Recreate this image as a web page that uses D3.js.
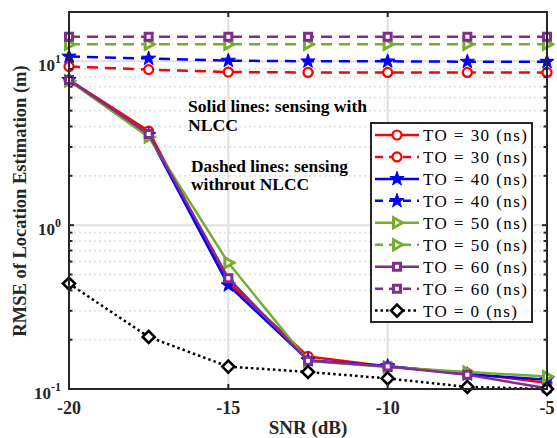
<!DOCTYPE html>
<html><head><meta charset="utf-8">
<script src="https://cdn.jsdelivr.net/npm/d3@7"></script>
<style>body{margin:0;background:#fff}svg{display:block}</style>
</head><body>
<svg id="c" width="557" height="438"></svg>
<script>
const snr = [-20, -17.5, -15, -12.5, -10, -7.5, -5];
const solid30 = [7.7, 3.75, 0.45, 0.158, 0.137, 0.125, 0.109];
const dashed30 = [9.3, 8.9, 8.6, 8.55, 8.55, 8.55, 8.55];
const solid40 = [7.7, 3.55, 0.43, 0.150, 0.138, 0.123, 0.114];
const dashed40 = [10.7, 10.4, 10.1, 10.0, 10.0, 9.95, 9.95];
const solid50 = [7.6, 3.45, 0.59, 0.148, 0.136, 0.127, 0.119];
const dashed50 = [12.7, 12.7, 12.7, 12.7, 12.7, 12.7, 12.7];
const solid60 = [7.7, 3.6, 0.475, 0.149, 0.137, 0.122, 0.101];
const dashed60 = [14.1, 14.1, 14.1, 14.1, 14.1, 14.1, 14.1];
const to0 = [0.44, 0.208, 0.137, 0.127, 0.116, 0.103, 0.100];
const legendLabels = ["TO = 30 (ns)","TO = 30 (ns)","TO = 40 (ns)","TO = 40 (ns)","TO = 50 (ns)","TO = 50 (ns)","TO = 60 (ns)","TO = 60 (ns)","TO = 0 (ns)"];
const xTicks = [-20, -15, -10, -5];
const yMajor = [0.1, 1, 10];
const yMajorExp = ["-1", "0", "1"];
const yMinor = [0.2,0.3,0.4,0.5,0.6,0.7,0.8,0.9,2,3,4,5,6,7,8,9];

const series = [
  {v: solid30, c: "#ff0000", dash: null, m: "circle"},
  {v: dashed30, c: "#ff0000", dash: "11,7", m: "circle"},
  {v: solid40, c: "#0000ff", dash: null, m: "star"},
  {v: dashed40, c: "#0000ff", dash: "11,7", m: "star"},
  {v: solid50, c: "#77ac30", dash: null, m: "tri"},
  {v: dashed50, c: "#77ac30", dash: "11,7", m: "tri"},
  {v: solid60, c: "#7e2f8e", dash: null, m: "square"},
  {v: dashed60, c: "#7e2f8e", dash: "11,7", m: "square"},
  {v: to0, c: "#000000", dash: "2.5,3", m: "diamond"}
];

const L = 69, R = 547, T = 12, B = 389;
const x = d3.scaleLinear().domain([-20, -5]).range([L, R]);
const y = d3.scaleLog().domain([0.1, 20]).range([B, T]);
const svg = d3.select("#c");
const axisCol = "#262626";
const serif = "'Liberation Serif','Times New Roman',serif";

// grid
const g = svg.append("g");
g.selectAll(".ymin").data(yMinor).join("line")
  .attr("x1", L).attr("x2", R).attr("y1", d => y(d)).attr("y2", d => y(d))
  .attr("stroke", "#e3e3e3").attr("stroke-width", 1.8).attr("stroke-dasharray", "2,3");
g.selectAll(".ymaj").data([1, 10]).join("line")
  .attr("x1", L).attr("x2", R).attr("y1", d => y(d)).attr("y2", d => y(d))
  .attr("stroke", "#e0e0e0").attr("stroke-width", 2);
g.selectAll(".xg").data([-15, -10]).join("line")
  .attr("y1", T).attr("y2", B).attr("x1", d => x(d)).attr("x2", d => x(d))
  .attr("stroke", "#e0e0e0").attr("stroke-width", 2);

// markers
function markerPath(type) {
  if (type === "star") {
    const pts = [];
    for (let i = 0; i < 10; i++) {
      const r = i % 2 === 0 ? 7.5 : 3.0;
      const a = -Math.PI / 2 + i * Math.PI / 5;
      pts.push([r * Math.cos(a), r * Math.sin(a)]);
    }
    return "M" + pts.map(p => p.join(",")).join("L") + "Z";
  }
  if (type === "tri") return "M-3.5,-5L5.5,0L-3.5,5Z";
  if (type === "square") return "M-3.5,-3.5L3.5,-3.5L3.5,3.5L-3.5,3.5Z";
  if (type === "diamond") return "M0,-6L6,0L0,6L-6,0Z";
  return null;
}
function drawMarker(sel, type, c) {
  if (type === "circle") {
    sel.append("circle").attr("r", 4.5).attr("fill", "#fff").attr("stroke", c).attr("stroke-width", 2.2);
  } else if (type === "star") {
    sel.append("path").attr("d", markerPath(type)).attr("fill", c).attr("stroke", c).attr("stroke-width", 1);
  } else if (type === "diamond") {
    sel.append("path").attr("d", markerPath(type)).attr("fill", "#fff").attr("stroke", c).attr("stroke-width", 2.6);
  } else {
    sel.append("path").attr("d", markerPath(type)).attr("fill", "#fff").attr("stroke", c).attr("stroke-width", 3);
  }
}

const line = d3.line().x(d => x(d[0])).y(d => y(d[1]));
const drawOrder = [1, 3, 5, 7, 0, 2, 4, 6, 8];
drawOrder.forEach(i => {
  const s = series[i];
  const pts = snr.map((d, k) => [d, s.v[k]]);
  svg.append("path").attr("d", line(pts)).attr("fill", "none")
    .attr("stroke", s.c).attr("stroke-width", 2.5)
    .attr("stroke-dasharray", s.dash)
    .attr("stroke-linejoin", "round");
  pts.forEach(p => {
    const mg = svg.append("g").attr("transform", `translate(${x(p[0])},${y(p[1])})`);
    drawMarker(mg, s.m, s.c);
  });
});

// axes box & ticks
const ax = svg.append("g");
ax.append("rect").attr("x", L).attr("y", T).attr("width", R - L).attr("height", B - T)
  .attr("fill", "none").attr("stroke", axisCol).attr("stroke-width", 2);
xTicks.forEach(t => {
  ax.append("line").attr("x1", x(t)).attr("x2", x(t)).attr("y1", B).attr("y2", B - 5).attr("stroke", axisCol).attr("stroke-width", 2);
  ax.append("line").attr("x1", x(t)).attr("x2", x(t)).attr("y1", T).attr("y2", T + 5).attr("stroke", axisCol).attr("stroke-width", 2);
  ax.append("text").attr("x", x(t)).attr("y", 414).attr("text-anchor", "middle")
    .attr("font-family", serif).attr("font-weight", "bold").attr("font-size", 18).attr("fill", "#262626").text(t);
});
yMajor.forEach((t, i) => {
  ax.append("line").attr("x1", L).attr("x2", L + 5).attr("y1", y(t)).attr("y2", y(t)).attr("stroke", axisCol).attr("stroke-width", 2);
  ax.append("line").attr("x1", R).attr("x2", R - 5).attr("y1", y(t)).attr("y2", y(t)).attr("stroke", axisCol).attr("stroke-width", 2);
  const tx = ax.append("text").attr("x", 61).attr("y", y(t) + 10).attr("text-anchor", "end")
    .attr("font-family", serif).attr("font-weight", "bold").attr("font-size", 17).attr("fill", "#262626");
  tx.append("tspan").text("10");
  tx.append("tspan").attr("dy", -8).attr("font-size", 12).text(yMajorExp[i]);
});
yMinor.forEach(t => {
  ax.append("line").attr("x1", L).attr("x2", L + 3.5).attr("y1", y(t)).attr("y2", y(t)).attr("stroke", axisCol).attr("stroke-width", 2);
  ax.append("line").attr("x1", R).attr("x2", R - 3.5).attr("y1", y(t)).attr("y2", y(t)).attr("stroke", axisCol).attr("stroke-width", 2);
});

// axis labels
svg.append("text").attr("x", 308).attr("y", 434).attr("text-anchor", "middle")
  .attr("font-family", serif).attr("font-weight", "bold").attr("font-size", 19).attr("fill", "#262626").text("SNR (dB)");
svg.append("text").attr("transform", `translate(26,201) rotate(-90)`).attr("text-anchor", "middle")
  .attr("font-family", serif).attr("font-weight", "bold").attr("font-size", 18.5).attr("fill", "#262626")
  .text("RMSE of Location Estimation (m)");

// annotations
const ann = [
  {t: "Solid lines: sensing with", x: 188, y: 112, w: 179},
  {t: "NLCC", x: 188, y: 131, w: 50},
  {t: "Dashed lines: sensing", x: 191, y: 172, w: 157},
  {t: "withrout NLCC", x: 191, y: 190, w: 118}
];
ann.forEach(a => svg.append("text").attr("x", a.x).attr("y", a.y)
  .attr("font-family", serif).attr("font-weight", "bold").attr("font-size", 17).attr("fill", "#000")
  .attr("textLength", a.w).attr("lengthAdjust", "spacingAndGlyphs").text(a.t));

// legend
const lg = svg.append("g");
const lx = 371, ly = 123, lw = 161, lh = 199;
lg.append("rect").attr("x", lx).attr("y", ly).attr("width", lw).attr("height", lh)
  .attr("fill", "#fff").attr("stroke", axisCol).attr("stroke-width", 2);
series.forEach((s, i) => {
  const cy = 135 + i * 21.95;
  lg.append("line").attr("x1", 375).attr("x2", 419).attr("y1", cy).attr("y2", cy)
    .attr("stroke", s.c).attr("stroke-width", 2.5).attr("stroke-dasharray", s.dash ? (i === 8 ? "2.5,3" : "8,6") : null);
  const mg = lg.append("g").attr("transform", `translate(397,${cy})`);
  drawMarker(mg, s.m, s.c);
  lg.append("text").attr("x", 423).attr("y", cy + 6).attr("font-family", serif)
    .attr("font-size", 17).attr("fill", "#000")
    .attr("textLength", i === 8 ? 94 : 104).attr("lengthAdjust", "spacing")
    .text(legendLabels[i]);
});
</script>
</body></html>
